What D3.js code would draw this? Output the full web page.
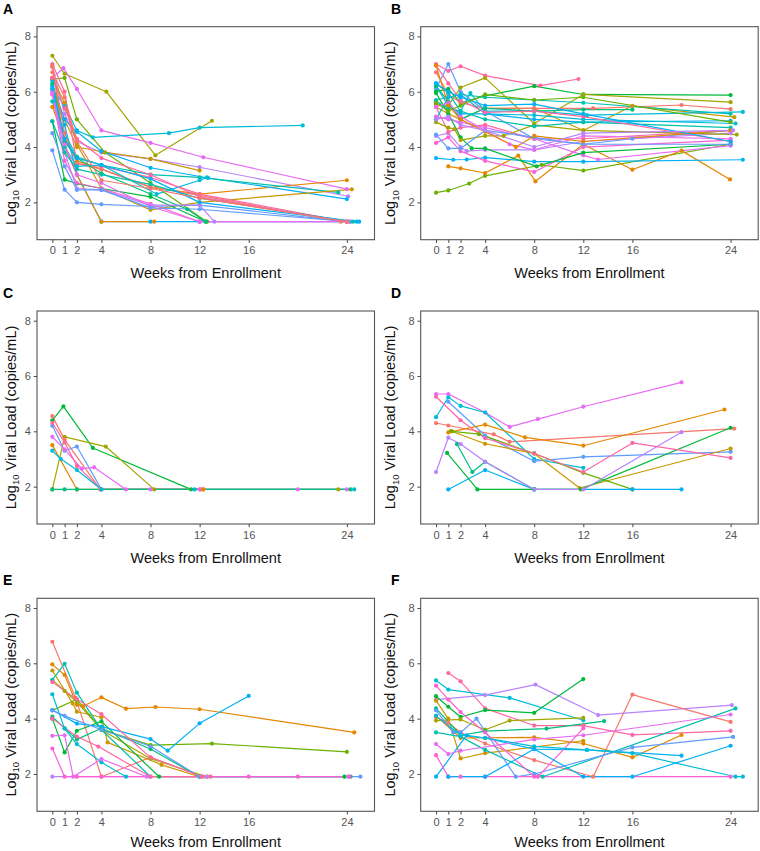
<!DOCTYPE html>
<html><head><meta charset="utf-8">
<script src="https://cdn.jsdelivr.net/npm/d3@7/dist/d3.min.js"></script>
<style>body{margin:0;background:#fff}svg{display:block}</style>
</head><body>
<script>
// Tick labels and axis ranges
const xTicks = [0, 1, 2, 4, 8, 12, 16, 24];
const yTicks = [2, 4, 6, 8];
const xDomain = [-1.25, 26.25];
const yDomain = [0.65, 8.35];
const panelLabels = ["A", "B", "C", "D", "E", "F"];
const xTitle = "Weeks from Enrollment";
// participant colour index (ggplot hue palette), then [week, log10 VL] points
const palette = ["#F8766D","#E58700","#C99800","#A3A500","#6BB100","#00BA38","#00BF7D","#00C0AF","#00BCD8","#00B0F6","#619CFF","#B983FF","#E76BF3","#FD61D1","#FF67A4"];

const panelA = [
 [3,[[0,7.3],[1,6.65],[4.4,6.0],[8.4,3.7],[13,4.95]]],
 [12,[[0,6.5],[0.9,6.85],[2,6.1],[4,4.6],[8,4.15],[12.3,3.63],[24,2.48]]],
 [8,[[0,6.1],[1,5.5],[2,4.6],[3.3,4.35],[9.5,4.5],[12,4.7],[20.4,4.78]]],
 [4,[[0,6.45],[1,6.5],[2,5.0],[4.3,3.8],[8,2.7],[12.6,1.3]]],
 [11,[[0,6.9],[1,5.2],[2,4.2],[4,3.8],[8,3.57],[12,3.27],[24.1,2.22]]],
 [1,[[0,5.45],[1,4.3],[2,3.5],[4,3.2],[8,2.55],[12,2.3],[24,2.8]]],
 [2,[[0,6.0],[1,5.0],[2,4.0],[4.2,3.82],[8,3.57],[12,3.15]]],
 [9,[[0,6.25],[1,5.0],[2,4.55],[4,3.85],[8,3.25],[12.7,2.88],[24,2.12]]],
 [7,[[0,5.65],[1,4.5],[2,3.65],[4,3.35],[8,3.0],[12,2.9],[23.3,2.36]]],
 [2,[[0,6.5],[1,5.6],[2,4.1],[4,2.5],[8,1.73],[12,2.0],[24.4,2.47]]],
 [10,[[0,3.88],[1,2.46],[2,2.0],[4,1.93],[8,1.85],[12,1.9],[24,1.3]]],
 [9,[[0,6.2],[1,4.8],[2,3.0],[4,1.3],[8,1.3],[12,1.3],[25,1.3]]],
 [1,[[0,6.95],[1,4.0],[2,3.0],[4,1.3],[8.3,1.3]]],
 [5,[[0,4.93],[1,2.82],[2,2.68],[4,2.5],[8,2.2],[12.5,1.3]]],
 [14,[[0,7.0],[1,6.0],[2,3.4],[4,3.3],[8,2.9],[12,2.3],[24,1.3]]],
 [0,[[0,6.9],[1,4.5],[2,3.4],[4,3.2],[8,2.55],[12,2.25],[23.5,1.3]]],
 [13,[[0,5.9],[1,3.5],[2,2.7],[4,2.5],[8,1.95],[12,1.3],[24.2,1.3]]],
 [6,[[0,6.3],[1,4.2],[2,3.6],[4,3.05],[8,2.3],[11,1.75],[12.5,1.3]]],
 [8,[[0,6.4],[1,4.0],[2,3.3],[4,3.35],[8.5,2.3],[12,2.8],[12.6,2.9]]],
 [11,[[0,6.0],[1,3.8],[2,2.5],[4,2.45],[8,1.9],[12,1.9],[13.2,1.3]]],
 [12,[[0,5.95],[1,4.1],[2,3.0],[4,2.7],[8,1.85],[12,1.3],[24,1.3]]],
 [10,[[0,4.5],[1,3.3],[2,2.45],[4,2.45],[8,1.8],[12,1.75],[24.3,1.3]]],
 [7,[[0,4.93],[1,3.8],[2,3.2],[4,3.0],[8,2.65],[12,2.15],[24.5,1.3]]],
 [9,[[0,6.1],[1,4.3],[2,3.6],[4,3.35],[8,2.85],[12,2.0],[24.8,1.3]]],
 [14,[[0,6.5],[1,5.4],[2,4.3],[4,3.6],[8,3.0],[12,2.2],[24,1.3]]],
 [0,[[0,6.7],[1,5.8],[2,4.2],[4,2.8],[8,2.5],[12,2.15],[24,1.3]]]
];
const panelB = [
 [14,[[0,7.0],[1,6.75],[2,6.92],[4,6.58],[8.5,6.22],[11.6,6.46]]],
 [10,[[0,6.1],[1,7.0],[2,6.0],[4,5.3],[8,4.3],[12,4.1],[16,4.3],[24,4.6]]],
 [5,[[0,6.0],[1,6.1],[2,5.6],[4,5.85],[8,6.2],[12,5.9],[24,5.88]]],
 [3,[[0,5.55],[1,5.5],[2,6.15],[4,6.5],[8,4.85],[12,5.9],[24,5.62]]],
 [4,[[0,2.35],[1,2.43],[2.7,2.68],[4,2.96],[8.6,3.35],[12,3.15],[24,4.1]]],
 [1,[[1,3.3],[2,3.23],[4,3.06],[6.7,3.69],[8.1,2.76],[12,4.1],[16,3.18],[20,3.87],[23.95,2.83]]],
 [9,[[0,3.6],[1.4,3.54],[2.5,3.55],[4,3.62],[8,3.47],[12,3.47],[25,3.54]]],
 [2,[[0,5.45],[1,5.2],[2,5.0],[4,5.4],[8,5.4],[12,4.6],[16,5.49],[24.3,5.08]]],
 [0,[[0,6.7],[1,5.9],[2,5.6],[4,5.4],[8,5.4],[12.8,5.4],[20,5.52],[24,5.37]]],
 [7,[[0,5.7],[1,5.8],[2,5.9],[4,5.8],[8,5.7],[12,5.6],[24,5.2]]],
 [8,[[0,6.3],[1,5.95],[2,5.3],[2.8,5.95],[4,5.3],[8,5.3],[12.3,5.15],[25,5.27]]],
 [9,[[0,6.2],[1,5.5],[2,5.2],[4,5.2],[8,5.0],[12,4.9],[24,4.95]]],
 [6,[[0,6.2],[1,5.65],[2,5.0],[4,5.4],[8,5.3],[12,5.35],[16,5.35]]],
 [11,[[0,4.4],[1,4.5],[2,4.0],[2.5,3.85],[4,3.9],[8,3.9],[12,4.2],[24,4.5]]],
 [12,[[0,5.1],[1,5.0],[2,4.9],[4,4.7],[8,4.3],[12,3.7],[13.2,3.55],[24,4.05]]],
 [13,[[0,4.15],[1,4.35],[2,3.85],[4,3.5],[8,3.1],[12,4.0],[24,4.25]]],
 [14,[[0,5.45],[1,4.55],[2,4.7],[4,4.8],[8,4.3],[12,4.3],[24,4.6]]],
 [5,[[0,5.95],[1,5.2],[2,4.35],[2.9,3.95],[4,3.95],[8.2,3.3],[12,3.8],[24,4.1]]],
 [3,[[0,4.9],[1,4.7],[1.5,4.65],[2,4.25],[4,4.4],[5.5,4.4],[8,4.8],[12,4.6],[24.5,4.45]]],
 [10,[[0,4.45],[1,3.95],[2,3.95],[4,4.6],[8,4.35],[12,4.1],[24,4.1]]],
 [8,[[0,5.0],[1,5.8],[2,5.9],[4,5.2],[8,5.15],[12,5.0],[24.4,4.85]]],
 [7,[[0,5.65],[1,5.4],[2,5.3],[4,5.0],[8,4.75],[12,4.9],[24,4.7]]],
 [12,[[0,5.45],[1,5.6],[2,5.1],[4,4.6],[6,4.1],[8,3.9],[12,4.4],[24,4.3]]],
 [14,[[0,6.95],[1,6.3],[2,5.7],[4,5.25],[8,5.3],[12,5.1],[24,4.2]]],
 [1,[[0,6.95],[1,5.5],[2,5.0],[4,4.55],[6.5,4.0],[8,4.4],[12,4.2],[24,4.6]]],
 [9,[[0,6.3],[1,6.0],[2,5.8],[4,5.5],[8,5.55],[12,5.2],[24,4.2]]],
 [11,[[0,5.0],[1,5.1],[2,4.8],[4,4.6],[8,4.0],[12,4.5],[24.2,4.6]]],
 [4,[[0,5.6],[1,5.3],[2,5.5],[4,5.9],[8,5.7],[12,5.8],[24,4.9]]]
];
const panelC = [
 [5,[[0,4.4],[0.9,4.9],[3.3,3.4],[11.3,1.9]]],
 [3,[[0,1.9],[1,3.8],[4.35,3.45],[8.3,1.9],[23.3,1.9]]],
 [0,[[0,4.55],[1,3.7],[3.9,1.9],[12.3,1.9]]],
 [10,[[0,4.2],[1,3.3],[2,3.45],[4,1.9]]],
 [12,[[0,3.8],[1,3.35],[2.4,2.65],[3.4,2.7],[6,1.9],[8,1.9],[12,1.9],[20,1.9],[24,1.9]]],
 [14,[[0,4.3],[1,3.6],[2,2.75],[4,1.9],[12.1,1.9]]],
 [1,[[0,3.5],[2,1.9],[12.3,1.9]]],
 [8,[[0,3.3],[0.7,3.0],[2,2.6],[4,1.9],[11.6,1.9],[24.6,1.9]]],
 [6,[[0,1.9],[1,1.9],[2,1.9],[24.3,1.9]]]
];
const panelD = [
 [12,[[0,5.35],[1,5.35],[4,4.68],[6,4.16],[8.3,4.44],[12,4.89],[20,5.77]]],
 [0,[[0,4.3],[1,4.21],[4.7,3.89],[6,3.62],[24.3,4.1]]],
 [8,[[0,4.51],[1,5.23],[2,4.92],[4,4.68],[8,3.0],[12,2.68]]],
 [10,[[1,5.07],[4,3.85],[8,2.92],[12,3.08],[24,3.26]]],
 [1,[[1,3.96],[4,4.24],[7.25,3.78],[12,3.48],[23.5,4.79]]],
 [2,[[1.2,4.01],[4,3.55],[8,3.2],[11.7,1.95],[24,3.38]]],
 [4,[[1.3,4.0],[3.5,3.9],[8,3.2],[12,2.5],[16,1.9]]],
 [9,[[1,1.9],[4,2.6],[8,1.9],[16,1.9],[20,1.9]]],
 [5,[[0.9,3.22],[3.37,1.9],[8,1.9],[11.8,1.9],[24,4.13]]],
 [6,[[1.7,3.54],[2.96,2.53],[4,2.9],[8,1.9]]],
 [11,[[0,2.53],[1,3.77],[2,3.54],[4,2.9],[8,1.9],[12,1.9],[20,3.97]]],
 [14,[[0,5.25],[2,4.4],[4,3.75],[8,3.2],[12,2.53],[16,3.58],[24,3.04]]]
];
const panelE = [
 [0,[[0,6.78],[1.9,4.75],[4,1.9],[8,2.6],[12.3,1.9]]],
 [1,[[0,5.96],[1,5.58],[2,4.5],[2.5,4.45],[4,4.77],[6,4.36],[8.4,4.42],[12,4.34],[24.6,3.5]]],
 [2,[[0,5.74],[1.66,4.55],[2,4.25],[4,4.05],[4.5,3.14],[8.9,2.33],[12,1.9]]],
 [3,[[0,5.4],[1,5.0],[2,4.6],[4,3.6],[8,2.55],[12.6,1.9]]],
 [4,[[0,4.3],[2,4.7],[4,3.6],[8,3.04],[13,3.1],[24,2.8]]],
 [5,[[0,4.0],[1,2.78],[2,3.56],[4,3.9],[8.7,1.9],[23.8,1.9]]],
 [6,[[0,4.07],[1,3.65],[2,3.25],[4,3.65],[8,2.9],[12,1.9],[24.3,1.9]]],
 [7,[[0,5.4],[1,5.98],[2,4.94],[4,3.6],[8,1.9]]],
 [8,[[0,4.88],[1,3.64],[2,3.08],[4,2.42],[6,1.9]]],
 [9,[[0,4.31],[2,3.82],[4,3.71],[8,3.26],[9.4,2.84],[12,3.83],[16,4.82]]],
 [10,[[0,4.3],[1,4.1],[4,3.6],[8,3.0],[12,1.9],[25.1,1.9]]],
 [11,[[0,1.9],[12.6,1.9],[24.1,1.9]]],
 [12,[[0,3.38],[1,3.4],[1.7,1.9],[4,2.54],[7.7,1.9]]],
 [13,[[0,2.92],[1,1.9],[2,1.9],[4,1.9],[16,1.9],[20,1.9],[24.2,1.9]]],
 [14,[[0,5.32],[2,4.7],[4,4.16],[8,2.6],[12.2,1.9]]],
 [14,[[0,4.0],[2,3.35],[3.75,2.99],[8,1.9],[12.9,1.9]]]
];
const panelF = [
 [14,[[1,5.65],[2,5.35],[4,4.37],[8,3.75],[12,3.75],[16,3.41],[24,3.56]]],
 [8,[[0,5.38],[1,5.05],[6,4.75],[12,3.94]]],
 [11,[[0,4.69],[4,4.85],[8.1,5.23],[13.2,4.13],[24.1,4.49]]],
 [5,[[0,4.81],[1,4.43],[2,4.06],[4,4.31],[8,4.21],[12,5.43]]],
 [0,[[0,4.05],[1,3.85],[2,3.5],[4,3.1],[8,2.5],[12.8,1.9],[16,4.87],[24,3.88]]],
 [3,[[0,3.93],[2,3.97],[4,3.6],[6,3.93],[12,4.03]]],
 [2,[[0,4.65],[1,4.0],[2,2.56],[4,2.75],[12,3.2]]],
 [1,[[0,4.1],[2,3.3],[8,3.32],[12,3.1],[16,2.6],[20,3.41]]],
 [6,[[0,4.37],[2,3.4],[4,3.55],[9,3.64],[13.7,3.91]]],
 [7,[[0,3.5],[2,3.35],[4,2.87],[8.7,1.9],[24.4,4.37]]],
 [9,[[0,1.9],[2.5,3.4],[4,3.3],[8,2.9],[12.3,2.87],[20,2.66]]],
 [10,[[0,4.3],[1.4,3.5],[2,3.5],[3.3,4.0],[6.5,1.9],[8,2.0],[16,2.96],[24.2,3.34]]],
 [12,[[0,3.08],[1,2.72],[2,2.84],[8,3.25],[12,3.4],[24,4.15]]],
 [13,[[0,5.19],[1,4.69],[2,4.24],[4,3.5],[8,1.9],[8.3,1.9],[12,3.65]]],
 [13,[[0,2.68],[1,1.9],[2,1.9],[4,1.9],[24,1.9]]],
 [8,[[0,4.1],[2,3.4],[4,3.3],[8,3.0],[12.3,2.87],[16,2.75],[24.4,1.9],[25,1.9]]],
 [9,[[1,1.9],[4,1.9],[8,2.9],[12,1.9],[16,1.9],[24,3.02]]]
];
const panels = [panelA, panelB, panelC, panelD, panelE, panelF];

// ---------- layout ----------
const W = 760, H = 851;
const colLeft = [37, 420.7];
const rowTop = [26.7, 311, 598.3];
const pw = 337.5, ph = 213;
const yTitleX = [15.5, 395];
const letterX = [3, 391];
const font = "'Liberation Sans', Arial, Helvetica, sans-serif";

const svg = d3.select("body").append("svg").attr("width", W).attr("height", H)
  .style("font-family", font);

panels.forEach((data, i) => {
  const c = i % 2, r = Math.floor(i / 2);
  const left = colLeft[c], top = rowTop[r];
  const x = d3.scaleLinear().domain(xDomain).range([0, pw]);
  const y = d3.scaleLinear().domain(yDomain).range([ph, 0]);
  const g = svg.append("g").attr("transform", `translate(${left},${top})`);

  // panel letter
  svg.append("text").attr("x", letterX[c]).attr("y", top - 13)
    .attr("font-size", 14).attr("font-weight", "bold").attr("fill", "#000")
    .text(panelLabels[i]);

  // axes
  const xa = g.append("g").attr("transform", `translate(0,${ph})`)
    .call(d3.axisBottom(x).tickValues(xTicks).tickSize(3.2).tickPadding(3.5).tickFormat(d3.format("d")));
  const ya = g.append("g")
    .call(d3.axisLeft(y).tickValues(yTicks).tickSize(3.2).tickPadding(3).tickFormat(d3.format("d")));
  [xa, ya].forEach(a => {
    a.select(".domain").remove();
    a.selectAll(".tick line").attr("stroke", "#444").attr("stroke-width", 1);
    a.selectAll(".tick text").attr("fill", "#555").attr("font-size", 11).style("font-family", font);
  });

  const line = d3.line().x(d => x(d[0])).y(d => y(d[1]));
  const lg = g.append("g");
  data.forEach(([id, pts]) => {
    lg.append("path").attr("d", line(pts)).attr("fill", "none")
      .attr("stroke", palette[id]).attr("stroke-width", 1.2).attr("stroke-linejoin", "round");
  });
  const pg = g.append("g");
  data.forEach(([id, pts]) => {
    pg.selectAll(null).data(pts).join("circle")
      .attr("cx", d => x(d[0])).attr("cy", d => y(d[1])).attr("r", 2.1)
      .attr("fill", palette[id]);
  });

  // border
  g.append("rect").attr("width", pw).attr("height", ph).attr("fill", "none")
    .attr("stroke", "#555").attr("stroke-width", 1.1);

  // titles
  svg.append("text").attr("x", left + pw / 2).attr("y", Math.min(top + 251.5, 847))
    .attr("text-anchor", "middle").attr("font-size", 14.5).attr("fill", "#111").text(xTitle);
  const yt = svg.append("text")
    .attr("transform", `translate(${yTitleX[c]},${top + ph / 2}) rotate(-90)`)
    .attr("text-anchor", "middle").attr("font-size", 14.5).attr("fill", "#111");
  yt.append("tspan").text("Log");
  yt.append("tspan").attr("font-size", 9.5).attr("dy", 3.5).text("10");
  yt.append("tspan").attr("dy", -3.5).text(" Viral Load (copies/mL)");
});
</script>
</body></html>
